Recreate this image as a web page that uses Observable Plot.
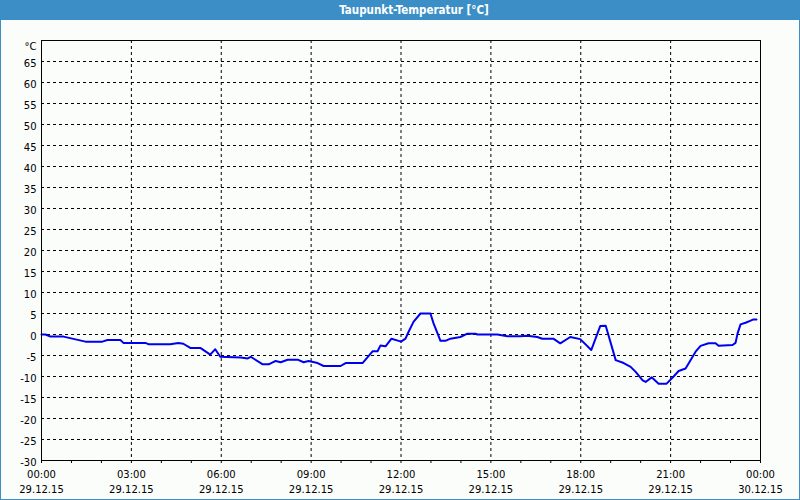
<!DOCTYPE html>
<html>
<head>
<meta charset="utf-8">
<script src="https://cdn.jsdelivr.net/npm/d3@7"></script>
<script src="https://cdn.jsdelivr.net/npm/@observablehq/plot@0.6"></script>
<style>
  html, body { margin: 0; padding: 0; background: #fbfdfb; }
  #wrap { position: relative; width: 800px; height: 500px; background: #fbfdfb; overflow: hidden; }
  #title { height: 20px; background: #3c8fc6; color: #ffffff; font: bold 11.5px "DejaVu Sans Condensed", "DejaVu Sans", sans-serif; line-height: 20px; text-align: center; padding-left: 28px; box-sizing: border-box; }
  #border { position: absolute; left: 0; top: 0; width: 800px; height: 500px; box-sizing: border-box; border: 1px solid #3c8fc6; border-top: none; pointer-events: none; }
  svg { display: block; }
</style>
</head>
<body>
<div id="wrap">
  <div id="title">Taupunkt-Temperatur [°C]</div>
  <div id="chart"></div>
  <div id="border"></div>
</div>
<script>
const times = ["00:00","00:08","00:18","00:44","01:28","02:02","02:12","02:38","02:44","03:28","03:34","04:18","04:34","04:44","04:58","05:18","05:38","05:48","05:58","06:39","06:53","06:59","07:23","07:35","07:49","07:59","08:13","08:33","08:45","08:55","09:13","09:25","09:59","10:09","10:43","11:03","11:13","11:19","11:29","11:41","11:52","12:00","12:09","12:15","12:25","12:39","12:59","13:05","13:13","13:19","13:29","13:39","13:59","14:13","14:29","14:33","15:13","15:33","15:59","16:13","16:33","16:43","17:05","17:19","17:39","17:59","18:21","18:39","18:50","19:10","19:26","19:40","19:50","20:04","20:10","20:22","20:36","20:52","21:06","21:16","21:30","21:50","22:00","22:16","22:30","22:36","23:04","23:10","23:14","23:20","23:30","23:38","23:46","23:52"];
const dewpoint = [0.0,0.0,-0.5,-0.5,-1.7,-1.7,-1.3,-1.3,-2.0,-2.0,-2.3,-2.3,-2.0,-2.2,-3.2,-3.2,-4.8,-3.5,-5.3,-5.5,-5.7,-5.3,-7.1,-7.1,-6.3,-6.6,-6.0,-6.0,-6.6,-6.3,-6.8,-7.5,-7.5,-6.8,-6.8,-4.0,-4.0,-2.6,-2.8,-1.0,-1.4,-1.7,-1.0,0.6,3.0,5.0,5.0,2.7,0.3,-1.5,-1.5,-1.0,-0.6,0.2,0.2,0.0,0.0,-0.4,-0.4,-0.3,-0.6,-1.0,-1.0,-2.1,-0.6,-1.1,-3.7,2.0,2.1,-6.1,-6.8,-7.7,-8.9,-10.9,-11.3,-10.2,-11.7,-11.7,-10.0,-8.7,-8.1,-4.1,-2.7,-2.1,-2.1,-2.7,-2.5,-2.0,0.2,2.4,2.8,3.2,3.6,3.6];

const yTicks = d3.range(-30, 70, 5);          // -30 .. 65
const yTopLabel = ["°C"];
const xTickHours = [0, 3, 6, 9, 12, 15, 18, 21, 24];
const xTickLabels = ["00:00\n29.12.15","03:00\n29.12.15","06:00\n29.12.15","09:00\n29.12.15","12:00\n29.12.15","15:00\n29.12.15","18:00\n29.12.15","21:00\n29.12.15","00:00\n30.12.15"];
const minorHours = d3.range(0, 25, 1);

const toHours = s => { const [h, m] = s.split(":").map(Number); return h + m / 60; };
const data = times.map((t, i) => ({ h: toHours(t), v: dewpoint[i] }));

const font = "DejaVu Sans, sans-serif";
const chart = Plot.plot({
  width: 800,
  height: 480,
  marginLeft: 41,
  marginRight: 40,
  marginTop: 20,
  marginBottom: 40,
  style: { background: "transparent", fontFamily: font, fontSize: "10px", color: "#000" },
  x: { domain: [0, 24], axis: null },
  y: { domain: [-30, 70], axis: null },
  marks: [
    Plot.ruleY(yTicks.filter(d => d > -30), { stroke: "#000", strokeDasharray: "3,3", strokeWidth: 1 }),
    Plot.ruleX(xTickHours.filter(d => d > 0 && d < 24), { stroke: "#000", strokeDasharray: "3,3", strokeWidth: 1 }),
    Plot.axisX({ ticks: minorHours, tickSize: 3, tickFormat: () => "", label: null, stroke: "#000" }),
    Plot.text(yTicks, { x: 0, y: d => d, text: d => String(d), textAnchor: "end", dx: -5, dy: 2, fontSize: 10, fill: "#000" }),
    Plot.text(yTopLabel, { x: 0, y: 70, text: d => d, textAnchor: "end", dx: -5, dy: 6, fontSize: 10, fill: "#000" }),
    Plot.text(xTickHours, { x: d => d, y: -30, text: (d, i) => xTickLabels[i], lineAnchor: "top", dy: 7, lineHeight: 1.5, fontSize: 10, fill: "#000" }),
    Plot.line(data, { x: "h", y: "v", stroke: "#0000f0", strokeWidth: 2 }),
    Plot.frame({ stroke: "#000", strokeWidth: 1 })
  ]
});
document.getElementById("chart").appendChild(chart);
</script>
</body>
</html>
